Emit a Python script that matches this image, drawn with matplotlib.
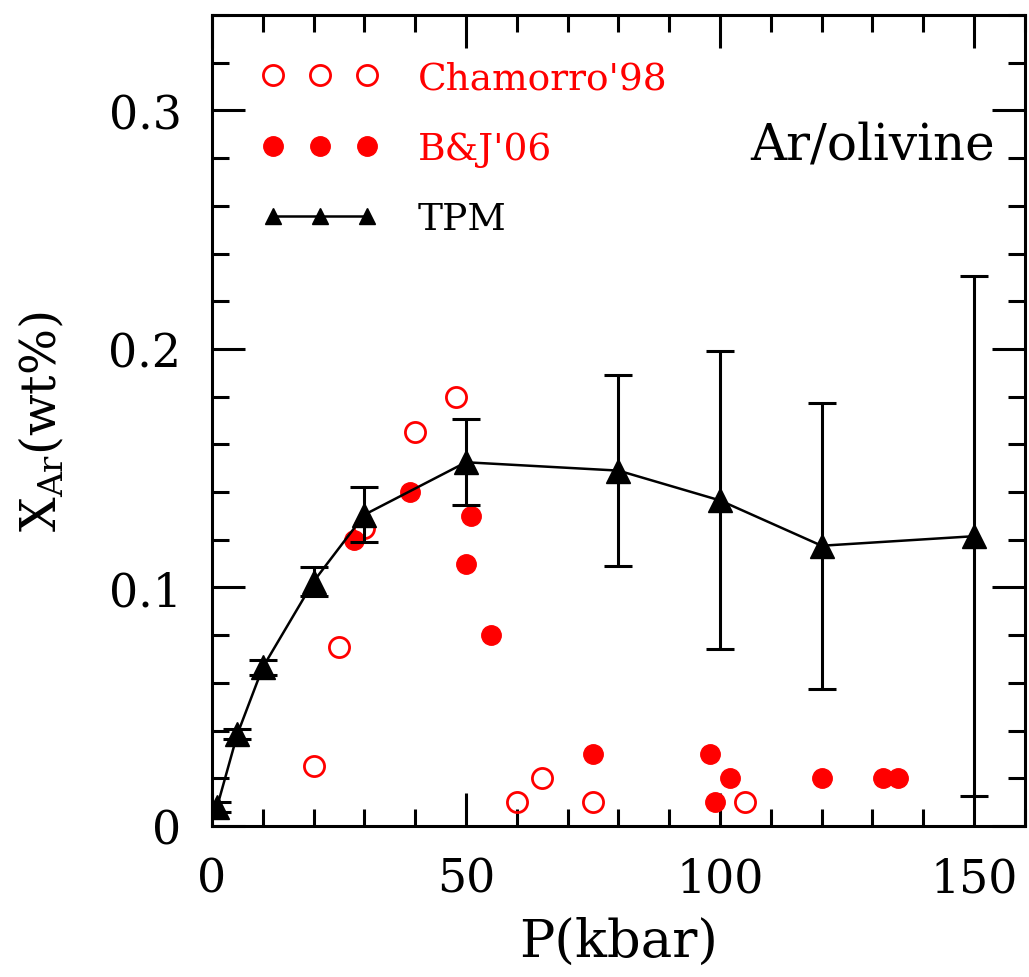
import matplotlib
matplotlib.use("Agg")
import matplotlib.pyplot as plt
from matplotlib.lines import Line2D
from matplotlib.ticker import MultipleLocator

# ---- data ----
tpm_p = [1, 5, 10, 20, 30, 50, 80, 100, 120, 150]
tpm_x = [0.008, 0.0385, 0.0665, 0.1025, 0.1305, 0.1525, 0.149, 0.1365, 0.1175, 0.1215]
tpm_err = [0.002, 0.002, 0.003, 0.006, 0.0115, 0.018, 0.040, 0.0625, 0.060, 0.109]

cham_p = [20, 25, 30, 40, 48, 60, 65, 75, 105]
cham_x = [0.025, 0.075, 0.125, 0.165, 0.180, 0.010, 0.020, 0.010, 0.010]

bj_p = [28, 39, 51, 50, 55, 75, 98, 99, 102, 120, 132, 135]
bj_x = [0.120, 0.140, 0.130, 0.110, 0.080, 0.030, 0.030, 0.010, 0.020, 0.020, 0.020, 0.020]

labels = ["Chamorro'98", "B&J'06", "TPM"]

plt.rcParams['font.family'] = ['DejaVu Serif']
plt.rcParams['mathtext.fontset'] = 'dejavuserif'

fig = plt.figure(figsize=(10.29, 9.78), dpi=100)
ax = fig.add_axes([0.206, 0.1544, 0.790, 0.8292])

red = '#ff0000'
ax.plot(cham_p, cham_x, 'o', ls='none', mfc='none', mec=red, mew=2, ms=14.5, zorder=3)
ax.plot(bj_p, bj_x, 'o', ls='none', mfc=red, mec=red, ms=14, zorder=3)
ax.errorbar(tpm_p, tpm_x, yerr=tpm_err, fmt='-^', color='black', lw=1.8,
            ms=17, elinewidth=2.2, capsize=10, capthick=2.2, zorder=4)

ax.set_xlim(0, 160)
ax.set_ylim(0, 0.34)
ax.xaxis.set_major_locator(MultipleLocator(50))
ax.xaxis.set_minor_locator(MultipleLocator(10))
ax.yaxis.set_major_locator(MultipleLocator(0.1))
ax.yaxis.set_minor_locator(MultipleLocator(0.02))
ax.set_yticks([0, 0.1, 0.2, 0.3])
ax.set_yticklabels(['0', '0.1', '0.2', '0.3'])

ax.tick_params(which='both', direction='in', top=True, right=True, width=2.2)
ax.tick_params(which='major', length=24, labelsize=33)
ax.tick_params(which='minor', length=12)
ax.tick_params(axis='x', which='major', pad=22)
ax.tick_params(axis='y', which='major', pad=22)
for s in ax.spines.values():
    s.set_linewidth(2.2)

ax.set_xlabel('P(kbar)', fontsize=38, labelpad=10)
ax.set_ylabel(r'$\mathregular{X_{Ar}(wt\%)}$', fontsize=35, labelpad=30)

ax.text(0.963, 0.84, 'Ar/olivine', transform=ax.transAxes, ha='right', va='center', fontsize=36)

handles = [
    Line2D([], [], ls='none', marker='o', mfc='none', mec=red, mew=2, ms=14.5),
    Line2D([], [], ls='none', marker='o', mfc=red, mec=red, ms=14),
    Line2D([], [], ls='-', color='black', lw=1.8, marker='^', ms=11),
]
leg = ax.legend(handles, labels, loc='upper left', frameon=False, numpoints=3,
                fontsize=27, handlelength=3.1, handletextpad=1.05, labelspacing=0.92,
                borderaxespad=0.0, borderpad=0.0, bbox_to_anchor=(0.0615, 0.944))
for t, c in zip(leg.get_texts(), [red, red, 'black']):
    t.set_color(c)

fig.savefig('out.png', dpi=100)
